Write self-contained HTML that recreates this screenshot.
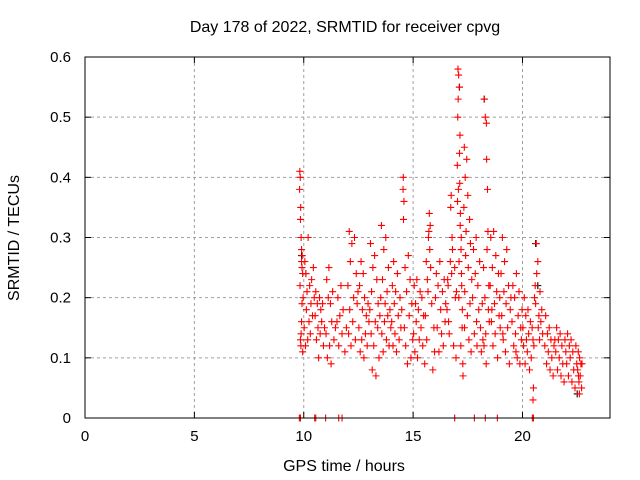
<!DOCTYPE html>
<html><head><meta charset="utf-8"><style>
body{margin:0;background:#fff;}
svg{display:block;font-family:"Liberation Sans",sans-serif;}
</style></head><body>
<svg id="chart" width="640" height="480">
<text x="345" y="32" text-anchor="middle" font-size="16">Day 178 of 2022, SRMTID for receiver cpvg</text>
<text x="344" y="471" text-anchor="middle" font-size="16">GPS time / hours</text>
<text transform="translate(19,238) rotate(-90)" text-anchor="middle" font-size="16">SRMTID / TECUs</text>
<g id="grid"></g><g id="ticks"></g><g id="marks"></g>
<rect x="85" y="57" width="525" height="361" fill="none" stroke="#000" stroke-width="1"/>
</svg>
<script>
const xTicks=[0,5,10,15,20];
const yTicks=[0,0.1,0.2,0.3,0.4,0.5,0.6];
const yTickLabels=["0","0.1","0.2","0.3","0.4","0.5","0.6"];
const times=[
9.82,9.84,9.85,9.86,9.83,9.88,9.81,9.87,9.9,9.92,9.95,9.93,9.85,9.9,9.97,9.88,9.92,9.95,9.9,
10.02,10.05,10.08,10.1,10.12,10.15,10.18,10.2,10.24,10.27,10.3,10.33,10.36,10.4,10.44,10.48,
10.52,10.55,10.58,10.62,10.65,10.68,10.72,10.75,10.78,10.82,10.86,10.9,10.95,
11.02,11.05,11.08,11.12,11.15,11.18,11.22,11.25,11.28,11.32,11.38,11.45,
11.52,11.56,11.6,11.65,11.7,11.75,11.8,11.88,11.95,
12.02,12.05,12.08,12.1,12.13,12.16,12.2,12.24,12.28,12.32,12.36,12.4,12.44,12.48,
12.52,12.55,12.58,12.62,12.65,12.68,12.72,12.75,12.78,12.82,12.86,12.9,12.94,12.98,
13.02,13.05,13.08,13.1,13.13,13.16,13.2,13.24,13.27,13.3,13.34,13.38,13.4,13.44,13.48,
13.52,13.55,13.57,13.6,13.63,13.66,13.69,13.72,13.75,13.78,13.81,13.84,13.87,13.9,13.94,13.98,
14.02,14.05,14.08,14.11,14.14,14.17,14.2,14.24,14.28,14.32,14.36,14.4,14.44,14.48,
14.55,14.56,14.54,14.58,14.6,14.63,14.66,14.7,14.74,14.78,14.82,14.86,14.9,14.94,14.98,
15.02,15.05,15.08,15.11,15.14,15.17,15.2,15.24,15.28,15.32,15.36,15.4,15.44,15.48,
15.72,15.74,15.76,15.78,15.8,15.7,15.68,15.65,15.62,15.6,15.56,15.53,15.85,15.9,15.95,15.98,
16.02,16.06,16.1,16.14,16.18,16.22,16.26,16.3,16.34,16.38,16.42,16.46,16.49,
16.72,16.74,16.76,16.78,16.8,16.55,16.6,16.65,16.7,16.85,16.9,16.93,16.96,16.58,16.62,16.98,
17.05,17.08,17.1,17.06,17.12,17.04,17.09,17.14,17.07,17.18,17.11,17.16,17.2,17.22,17.02,17.25,17.13,17.27,17.03,17.19,17.24,17.15,17.28,17.21,
17.32,17.34,17.36,17.38,17.4,17.42,17.45,17.48,17.5,17.52,17.55,17.58,17.6,17.62,17.65,17.68,17.35,
17.72,17.76,17.8,17.84,17.88,17.92,17.96,18.0,18.04,18.08,18.12,18.16,18.19,17.9,
18.3,18.36,18.35,18.4,18.42,18.22,18.25,18.28,18.32,18.38,18.44,18.46,18.24,18.48,18.34,
18.52,18.55,18.58,18.62,18.65,18.68,18.72,18.75,18.78,18.82,18.86,18.9,18.93,18.96,18.98,18.6,
19.02,19.05,19.08,19.12,19.15,19.18,19.22,19.25,19.28,19.32,19.36,19.4,19.44,19.47,19.1,
19.52,19.56,19.6,19.64,19.68,19.72,19.76,19.8,19.84,19.88,19.92,19.95,19.98,19.7,
20.02,20.05,20.08,20.12,20.15,20.18,20.22,20.25,20.28,20.32,20.36,20.4,20.44,20.48,
20.65,20.63,20.6,20.7,20.72,20.58,20.75,20.55,20.78,20.8,20.84,20.52,20.88,20.92,20.5,20.48,
21.02,21.06,21.1,21.14,21.18,21.22,21.26,21.3,21.34,21.4,21.44,21.48,
21.52,21.56,21.6,21.64,21.68,21.72,21.76,21.8,21.84,21.9,21.94,21.98,
22.02,22.06,22.1,22.14,22.18,22.22,22.26,22.3,22.34,22.4,22.44,22.48,
22.52,22.55,22.58,22.61,22.64,22.67,22.7,22.6,22.72,22.56,
9.8,9.85,10.5,10.55,11.0,11.6,11.75,16.9,17.8,18.3,18.85,20.45,20.5];
const values=[
0.41,0.40,0.13,0.35,0.22,0.30,0.38,0.12,0.26,0.19,0.24,0.27,0.33,0.16,0.20,0.14,0.25,0.11,0.28,
0.15,0.26,0.12,0.24,0.18,0.21,0.13,0.30,0.16,0.22,0.14,0.19,0.23,0.17,0.25,0.20,
0.17,0.21,0.13,0.19,0.15,0.10,0.20,0.14,0.18,0.16,0.19,0.12,0.15,
0.14,0.23,0.10,0.20,0.25,0.12,0.19,0.09,0.16,0.21,0.13,0.15,
0.16,0.20,0.12,0.17,0.22,0.14,0.18,0.11,0.15,
0.22,0.14,0.31,0.18,0.26,0.12,0.29,0.16,0.20,0.30,0.13,0.24,0.19,0.21,
0.15,0.22,0.11,0.26,0.13,0.18,0.24,0.10,0.20,0.14,0.17,0.12,0.19,0.16,
0.18,0.29,0.14,0.21,0.08,0.25,0.12,0.27,0.16,0.07,0.23,0.15,0.19,0.10,0.17,
0.20,0.32,0.14,0.23,0.11,0.28,0.16,0.19,0.30,0.13,0.21,0.17,0.25,0.12,0.18,0.15,
0.16,0.22,0.12,0.26,0.19,0.14,0.21,0.11,0.24,0.17,0.13,0.20,0.15,0.18,
0.40,0.33,0.38,0.36,0.15,0.25,0.12,0.21,0.09,0.27,0.17,0.23,0.10,0.19,0.13,
0.14,0.22,0.11,0.19,0.16,0.23,0.10,0.18,0.13,0.21,0.15,0.20,0.12,0.17,
0.31,0.34,0.28,0.32,0.25,0.30,0.21,0.23,0.13,0.26,0.17,0.09,0.19,0.08,0.15,0.11,
0.20,0.24,0.15,0.22,0.11,0.26,0.18,0.14,0.21,0.12,0.23,0.16,0.19,
0.35,0.37,0.24,0.30,0.28,0.18,0.22,0.14,0.26,0.12,0.25,0.20,0.10,0.23,0.16,0.21,
0.58,0.57,0.26,0.53,0.44,0.50,0.20,0.47,0.38,0.12,0.55,0.34,0.30,0.22,0.42,0.18,0.39,0.09,0.36,0.28,0.15,0.32,0.07,0.24,
0.35,0.45,0.21,0.40,0.27,0.31,0.43,0.17,0.37,0.25,0.13,0.33,0.19,0.29,0.11,0.23,0.15,
0.20,0.28,0.14,0.24,0.30,0.12,0.22,0.18,0.26,0.15,0.11,0.19,0.13,0.16,
0.50,0.43,0.49,0.38,0.31,0.25,0.53,0.20,0.14,0.28,0.18,0.22,0.12,0.16,0.09,
0.22,0.30,0.16,0.25,0.12,0.31,0.19,0.14,0.27,0.21,0.10,0.24,0.17,0.20,0.15,0.18,
0.24,0.17,0.30,0.13,0.21,0.26,0.11,0.19,0.28,0.15,0.22,0.09,0.18,0.20,0.14,
0.16,0.22,0.12,0.20,0.14,0.24,0.10,0.17,0.21,0.09,0.15,0.13,0.18,0.11,
0.15,0.12,0.20,0.09,0.17,0.13,0.11,0.18,0.14,0.08,0.16,0.10,0.15,0.13,
0.24,0.29,0.19,0.26,0.15,0.22,0.17,0.20,0.13,0.21,0.16,0.12,0.18,0.14,0.05,0.03,
0.12,0.17,0.09,0.14,0.11,0.15,0.08,0.13,0.10,0.07,0.12,0.13,
0.11,0.15,0.08,0.13,0.10,0.14,0.07,0.12,0.09,0.06,0.13,0.11,
0.09,0.14,0.07,0.12,0.10,0.13,0.06,0.11,0.08,0.05,0.12,0.09,
0.08,0.11,0.06,0.10,0.07,0.09,0.05,0.04,0.09,0.07,
0,0,0,0,0,0,0,0,0,0,0,0,0];
const blackTimes=[9.9,10.1,17.12,18.25,20.6,20.7,22.5];
const blackValues=[0.27,0.24,0.55,0.53,0.29,0.22,0.04];

const X0=85,X1=610,Y0=418,Y1=57,XMAX=24,YMAX=0.6;
function sx(t){return X0+(X1-X0)*t/XMAX;}
function sy(v){return Y0-(Y0-Y1)*v/YMAX;}
const NS="http://www.w3.org/2000/svg";
function mk(tag,attrs,parent){const e=document.createElementNS(NS,tag);for(const k in attrs)e.setAttribute(k,attrs[k]);parent.appendChild(e);return e;}
const grid=document.getElementById('grid'),ticks=document.getElementById('ticks'),marks=document.getElementById('marks');
xTicks.forEach(t=>{
  const x=sx(t);
  if(t>0){const g=mk('line',{x1:x,x2:x,y1:Y1,y2:Y0,stroke:'#a0a0a0','stroke-dasharray':'3,3'},grid);
  
  }
  mk('line',{x1:x,x2:x,y1:Y0,y2:Y0-6,stroke:'#000'},ticks);
  mk('line',{x1:x,x2:x,y1:Y1,y2:Y1+6,stroke:'#000'},ticks);
  const l=mk('text',{x:x,y:Y0+23,'text-anchor':'middle','font-size':'15'},ticks);
  l.textContent=String(t);
  
  
});
yTicks.forEach((v,i)=>{
  const y=sy(v);
  if(v>0&&v<YMAX){const g=mk('line',{x1:X0,x2:X1,y1:y,y2:y,stroke:'#a0a0a0','stroke-dasharray':'3,3'},grid);
  
  }
  mk('line',{x1:X0,x2:X0+6,y1:y,y2:y,stroke:'#000'},ticks);
  mk('line',{x1:X1,x2:X1-6,y1:y,y2:y,stroke:'#000'},ticks);
  const l=mk('text',{x:X0-14,y:y+5,'text-anchor':'end','font-size':'15'},ticks);
  l.textContent=yTickLabels[i];
  
  
});
function plus(t,v,col){
  const x=sx(t),y=sy(v);
  const p=mk('path',{d:`M${x-3.5},${y}H${x+3.5}M${x},${y-3.5}V${y+3.5}`,stroke:col,'stroke-width':'1.1',fill:'none'},marks);
  
  
}
for(let i=0;i<blackTimes.length;i++)plus(blackTimes[i],blackValues[i],'#000');
const n=Math.min(times.length,values.length);
for(let i=0;i<n;i++)plus(times[i],values[i],'#ff0000');
</script>
</body></html>
